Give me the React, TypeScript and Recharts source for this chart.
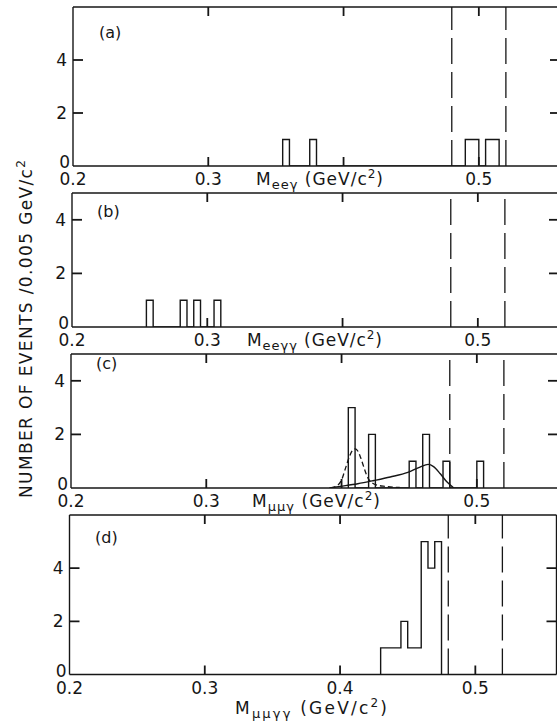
import React from 'react';
import { ComposedChart, Line, Scatter, XAxis, YAxis, ReferenceLine } from 'recharts';

const INK = '#161616';
const FONT = "'DejaVu Sans', sans-serif";
const BIN = 0.005;

const xTicks = [0.2, 0.3, 0.4, 0.5];
const xInnerTicks = [0.3, 0.4, 0.5];
const yTicks = [0, 2, 4];
const yInnerTicks = [2, 4];
const cutLines = [0.48, 0.52];
const panelLabels = ['(a)', '(b)', '(c)', '(d)'];
const titleSubs = ['eeγ', 'eeγγ', 'μμγ', 'μμγγ'];
const yTitle = 'NUMBER OF EVENTS /0.005 GeV/c';

// histogram bins (lower edge, GeV/c^2) and counts
const aBins = [0.355, 0.375, 0.49, 0.495, 0.505, 0.51];
const aCounts = [1, 1, 1, 1, 1, 1];
const bBins = [0.255, 0.28, 0.29, 0.305];
const bCounts = [1, 1, 1, 1];
const cBins = [0.405, 0.42, 0.45, 0.46, 0.475, 0.5];
const cCounts = [3, 2, 1, 2, 1, 1];
const dBins = [0.43, 0.435, 0.44, 0.445, 0.45, 0.455, 0.46, 0.465, 0.47];
const dCounts = [1, 1, 1, 2, 1, 1, 5, 4, 5];

// curves in panel (c)
const cDashX = [0.392, 0.397, 0.4, 0.403, 0.406, 0.408, 0.41, 0.412, 0.414, 0.416, 0.418, 0.42, 0.423, 0.427, 0.432, 0.438, 0.443];
const cDashY = [0, 0.1, 0.3, 0.75, 1.2, 1.4, 1.46, 1.38, 1.15, 0.85, 0.55, 0.33, 0.18, 0.1, 0.06, 0.03, 0.02];
const cSolidX = [0.391, 0.399, 0.412, 0.424, 0.436, 0.449, 0.458, 0.464, 0.468, 0.473, 0.478, 0.483];
const cSolidY = [0, 0.06, 0.16, 0.28, 0.41, 0.58, 0.78, 0.88, 0.8, 0.53, 0.22, 0];

function outline(bins: number[], counts: number[]) {
  const idx = bins.map((b) => Math.round(b / BIN));
  const m = new Map<number, number>();
  idx.forEach((i, k) => m.set(i, counts[k]));
  const lo = Math.min(...idx);
  const hi = Math.max(...idx);
  const pts = [{ x: +(lo * BIN).toFixed(3), y: 0 }];
  for (let i = lo; i <= hi; i++) pts.push({ x: +(i * BIN).toFixed(3), y: m.get(i) ?? 0 });
  pts.push({ x: +((hi + 1) * BIN).toFixed(3), y: 0 });
  return pts;
}

function pairs(xs: number[], ys: number[]) {
  return xs.map((x, i) => ({ x, y: ys[i] }));
}

const X_MIN = 0.2;
const X_MAX = 0.56;
const PW = 487;
const MT = 10;
const XH = 34;
const RM = 24;
const YW = 30;
const XT = 9; // inward x tick length, px
const YT = 10; // inward y tick length, px
const TICK_W = 1.8;

const axisStroke = { stroke: INK, strokeWidth: 1.4 };

type Layout = { top: number; left: number; plotH: number; yMax: number };
const layouts: Layout[] = [
  { top: 7, left: 73, plotH: 159, yMax: 6 },
  { top: 193, left: 72, plotH: 134, yMax: 5 },
  { top: 354, left: 71, plotH: 134, yMax: 5 },
  { top: 515, left: 69.5, plotH: 159.5, yMax: 6 },
];

// inward frame tick marks, placed at the tick values on all four sides
function frameTicks(yMax: number) {
  return [
    ...xInnerTicks.map((v) => ({ x: v, y: 0, dir: 'up' })),
    ...xInnerTicks.map((v) => ({ x: v, y: yMax, dir: 'down' })),
    ...yInnerTicks.map((v) => ({ x: X_MIN, y: v, dir: 'right' })),
    ...yInnerTicks.map((v) => ({ x: X_MAX, y: v, dir: 'left' })),
  ];
}

function TickShape(props: any) {
  const { cx, cy, payload } = props;
  if (cx == null || cy == null) return <g />;
  const dir = payload?.dir;
  let d = '';
  if (dir === 'up') d = `M${cx},${cy}v${-XT}`;
  else if (dir === 'down') d = `M${cx},${cy}v${XT}`;
  else if (dir === 'right') d = `M${cx},${cy}h${YT}`;
  else d = `M${cx},${cy}h${-YT}`;
  return <path d={d} stroke={INK} strokeWidth={TICK_W} fill="none" />;
}

function XLabel(props: any) {
  const { x, y, payload, showMid } = props;
  const v = payload.value as number;
  const showLabel = showMid || Math.abs(v - 0.4) > 0.01;
  if (!showLabel) return <g />;
  return (
    <text x={x} y={y + 19} textAnchor="middle" fontSize={17} fontFamily={FONT} fill={INK}>
      {v.toFixed(1)}
    </text>
  );
}

function YLabel(props: any) {
  const { x, y, payload } = props;
  const v = payload.value as number;
  return (
    <text x={v === 0 ? x - 3 : x - 6} y={v === 0 ? y + 2 : y + 6} textAnchor="end" fontSize={17} fontFamily={FONT} fill={INK}>
      {v}
    </text>
  );
}

type PanelProps = {
  L: Layout;
  bins: number[];
  counts: number[];
  showMid?: boolean;
  curves?: boolean;
};

function Panel({ L, bins, counts, showMid, curves }: PanelProps) {
  const { top, left, plotH, yMax } = L;
  const W = left + PW + RM;
  const H = plotH + MT + XH;
  return (
    <div style={{ position: 'absolute', left: 0, top: top - MT }}>
      <ComposedChart width={W} height={H} margin={{ top: MT, right: RM, bottom: 0, left: left - YW }}>
        <XAxis
          type="number"
          dataKey="x"
          domain={[X_MIN, X_MAX]}
          ticks={xTicks}
          allowDataOverflow
          axisLine={axisStroke}
          tickLine={false}
          tickSize={0}
          tickMargin={0}
          height={XH}
          interval={0}
          tick={(p: any) => <XLabel {...p} showMid={showMid} />}
        />
        <YAxis
          type="number"
          domain={[0, yMax]}
          ticks={yTicks}
          allowDataOverflow
          axisLine={axisStroke}
          tickLine={false}
          tickSize={0}
          tickMargin={0}
          width={YW}
          interval={0}
          tick={(p: any) => <YLabel {...p} />}
        />
        <ReferenceLine y={yMax} stroke={INK} strokeWidth={1.4} />
        <ReferenceLine x={X_MAX} stroke={INK} strokeWidth={1.4} />
        {cutLines.map((v) => (
          <ReferenceLine key={v} x={v} stroke={INK} strokeWidth={1.3} strokeDasharray="26 8" />
        ))}
        <Scatter data={frameTicks(yMax)} dataKey="y" shape={(p: any) => <TickShape {...p} />} isAnimationActive={false} />
        <Line
          data={outline(bins, counts)}
          dataKey="y"
          type="stepAfter"
          stroke={INK}
          strokeWidth={1.4}
          dot={false}
          activeDot={false}
          isAnimationActive={false}
        />
        {curves && (
          <Line
            data={pairs(cDashX, cDashY)}
            dataKey="y"
            type="monotone"
            stroke={INK}
            strokeWidth={1.3}
            strokeDasharray="5 3"
            dot={false}
            activeDot={false}
            isAnimationActive={false}
          />
        )}
        {curves && (
          <Line
            data={pairs(cSolidX, cSolidY)}
            dataKey="y"
            type="monotone"
            stroke={INK}
            strokeWidth={1.4}
            dot={false}
            activeDot={false}
            isAnimationActive={false}
          />
        )}
      </ComposedChart>
    </div>
  );
}

function Title({ x, y, sub, len }: { x: number; y: number; sub: string; len: number }) {
  return (
    <text x={x} y={y} fontSize={17} fontFamily={FONT} fill={INK} textLength={len} lengthAdjust="spacing">
      M
      <tspan dy={4} fontSize={13}>
        {sub}
      </tspan>
      <tspan dy={-4}> (GeV/c</tspan>
      <tspan dy={-7} fontSize={12}>
        2
      </tspan>
      <tspan dy={7}>)</tspan>
    </text>
  );
}

export default function App() {
  return (
    <div style={{ position: 'absolute', left: 0, top: 0, width: 557, height: 721, overflow: 'hidden', background: '#fff' }}>
      <Panel L={layouts[0]} bins={aBins} counts={aCounts} />
      <Panel L={layouts[1]} bins={bBins} counts={bCounts} />
      <Panel L={layouts[2]} bins={cBins} counts={cCounts} curves />
      <Panel L={layouts[3]} bins={dBins} counts={dCounts} showMid />
      <svg width={557} height={721} style={{ position: 'absolute', left: 0, top: 0, pointerEvents: 'none' }}>
        <text x={99} y={38} fontSize={16} fontFamily={FONT} fill={INK}>{panelLabels[0]}</text>
        <text x={97} y={217} fontSize={16} fontFamily={FONT} fill={INK}>{panelLabels[1]}</text>
        <text x={96} y={369} fontSize={16} fontFamily={FONT} fill={INK}>{panelLabels[2]}</text>
        <text x={95} y={543} fontSize={16} fontFamily={FONT} fill={INK}>{panelLabels[3]}</text>
        <Title x={256} y={185} sub={titleSubs[0]} len={127} />
        <Title x={247} y={346} sub={titleSubs[1]} len={135} />
        <Title x={252} y={507} sub={titleSubs[2]} len={128} />
        <Title x={235} y={714} sub={titleSubs[3]} len={152} />
        <text
          x={32}
          y={329}
          transform="rotate(-90 32 329)"
          textAnchor="middle"
          fontSize={17}
          fontFamily={FONT}
          fill={INK}
          textLength={338}
          lengthAdjust="spacing"
        >
          {yTitle}
          <tspan dy={-7} fontSize={12}>
            2
          </tspan>
        </text>
      </svg>
    </div>
  );
}
